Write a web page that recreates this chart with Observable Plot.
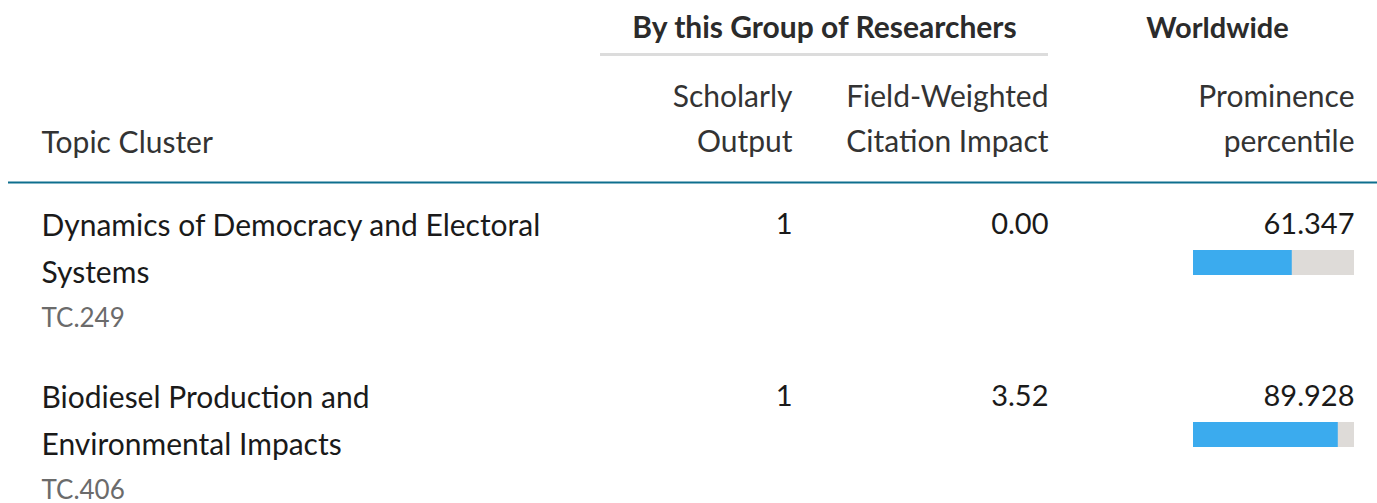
<!DOCTYPE html>
<html>
<head>
<meta charset="utf-8">
<script src="https://cdn.jsdelivr.net/npm/d3@7"></script>
<script src="https://cdn.jsdelivr.net/npm/@observablehq/plot@0.6"></script>
<style>
  html, body { margin: 0; padding: 0; background: #fff; }
  #chart svg { display: block; }
</style>
</head>
<body>
<div id="chart"></div>
<script>
// ---- data ----
const topics = [
  "Dynamics of Democracy and Electoral Systems",
  "Biodiesel Production and Environmental Impacts"
];
const topicCodes = ["TC.249", "TC.406"];
const scholarlyOutput = [1, 1];
const fwci = [0.00, 3.52];
const prominencePercentile = [61.347, 89.928];

const groupHeader = "By this Group of Researchers";
const worldHeader = "Worldwide";
const columnHeaders = ["Topic Cluster", "Scholarly\nOutput", "Field-Weighted\nCitation Impact", "Prominence\npercentile"];

// ---- layout / style ----
const W = 1377, H = 503;
const FONT = "Lato, 'Noto Sans', sans-serif";
const fsBody = 30, fsHead = 30, fsBold = 29, fsGroup = 30, fsCode = 26, fsVal = 29;
const colTopic = 41, colOutput = 792, colFwci = 1048, colProm = 1354;
const barLeft = 1193, barRight = 1354;

function wrap(text, maxWidth, font) {
  const ctx = document.createElement("canvas").getContext("2d");
  ctx.font = font;
  const words = text.split(" ");
  const lines = [];
  let line = "";
  for (const w of words) {
    const test = line ? line + " " + w : w;
    if (ctx.measureText(test).width > maxWidth && line) { lines.push(line); line = w; }
    else line = test;
  }
  if (line) lines.push(line);
  return lines.join("\n");
}

const rows = topics.map((t, i) => ({
  index: i,
  topic: t,
  code: topicCodes[i],
  output: scholarlyOutput[i],
  fwci: fwci[i],
  prom: prominencePercentile[i]
}));

function render() {
  const bodyFont = `${fsBody}px Lato`;
  rows.forEach(r => r.label = wrap(r.topic, 520, bodyFont));
  // y of the text anchor (lineAnchor "top") for a given first-line baseline
  const top = (baseline, fs, lh = 1, multi = false) => baseline - 0.71 * fs * (multi ? lh : 1);
  const rowStart = 184, rowStep = 172;
  const lhHead = 45 / fsHead, lhBody = 47 / fsBody;

  const plot = Plot.plot({
    width: W,
    height: H,
    margin: 0,
    style: {fontFamily: FONT, background: "#fff", overflow: "visible"},
    x: {domain: [0, 100], range: [barLeft, barRight], axis: null},
    y: {domain: [0, 1], range: [rowStart, rowStart + rowStep], axis: null},
    marks: [
      // header group titles
      Plot.text([groupHeader], {frameAnchor: "top-left", dx: 824, dy: top(37, fsGroup), text: d => d,
        textAnchor: "middle", lineAnchor: "top", fontSize: fsGroup, fontWeight: 700, fill: "#2b2b2b"}),
      Plot.text([worldHeader], {frameAnchor: "top-left", dx: 1217, dy: top(37, fsBold), text: d => d,
        textAnchor: "middle", lineAnchor: "top", fontSize: fsBold, fontWeight: 700, fill: "#2b2b2b"}),
      // grey rule under group title
      Plot.ruleY([0], {y: d => d, dy: 54 - rowStart, insetLeft: 600, insetRight: W - 1048, stroke: "#dcdcdc", strokeWidth: 3}),
      // column headers
      Plot.text([columnHeaders[0]], {frameAnchor: "top-left", dx: colTopic, dy: top(152, fsHead), text: d => d,
        textAnchor: "start", lineAnchor: "top", fontSize: fsHead, fill: "#333"}),
      Plot.text([columnHeaders[1]], {frameAnchor: "top-left", dx: colOutput, dy: top(107, fsHead, lhHead, true), text: d => d,
        textAnchor: "end", lineAnchor: "top", fontSize: fsHead, lineHeight: lhHead, fill: "#333"}),
      Plot.text([columnHeaders[2]], {frameAnchor: "top-left", dx: colFwci, dy: top(107, fsHead, lhHead, true), text: d => d,
        textAnchor: "end", lineAnchor: "top", fontSize: fsHead, lineHeight: lhHead, fill: "#333"}),
      Plot.text([columnHeaders[3]], {frameAnchor: "top-left", dx: colProm, dy: top(107, fsHead, lhHead, true), text: d => d,
        textAnchor: "end", lineAnchor: "top", fontSize: fsHead, lineHeight: lhHead, fill: "#333"}),
      // teal header rule
      Plot.ruleY([0], {y: d => d, dy: -2, insetLeft: 8, stroke: "#0e6f8e", strokeWidth: 2}),
      // topic names
      Plot.text(rows, {y: "index", frameAnchor: "left", dx: colTopic, dy: top(235.5, fsBody, lhBody, true) - rowStart,
        text: "label", textAnchor: "start", lineAnchor: "top", fontSize: fsBody, lineHeight: lhBody, fill: "#1a1a1a"}),
      // topic codes
      Plot.text(rows, {y: "index", frameAnchor: "left", dx: colTopic, dy: top(326, fsCode) - rowStart,
        text: "code", textAnchor: "start", lineAnchor: "top", fontSize: fsCode, fill: "#6b6b6b"}),
      // scholarly output
      Plot.text(rows, {y: "index", frameAnchor: "left", dx: colOutput, dy: top(233, fsVal) - rowStart,
        text: d => d3.format("d")(d.output), textAnchor: "end", lineAnchor: "top", fontSize: fsVal, fill: "#1a1a1a"}),
      // FWCI
      Plot.text(rows, {y: "index", frameAnchor: "left", dx: colFwci, dy: top(233, fsVal) - rowStart,
        text: d => d3.format(".2f")(d.fwci), textAnchor: "end", lineAnchor: "top", fontSize: fsVal, fill: "#1a1a1a"}),
      // prominence value
      Plot.text(rows, {y: "index", frameAnchor: "left", dx: colProm, dy: top(233, fsVal) - rowStart,
        text: d => d3.format(".3f")(d.prom), textAnchor: "end", lineAnchor: "top", fontSize: fsVal, fill: "#1a1a1a"}),
      // prominence bar background
      Plot.ruleY(rows, {y: "index", x1: 0, x2: 100, dy: 262 - rowStart, stroke: "#dedbd8", strokeWidth: 25}),
      // prominence bar
      Plot.ruleY(rows, {y: "index", x1: 0, x2: "prom", dy: 262 - rowStart, stroke: "#3babee", strokeWidth: 25})
    ]
  });
  document.getElementById("chart").replaceChildren(plot);
}

if (document.fonts && document.fonts.load) {
  Promise.all([document.fonts.load("30px Lato"), document.fonts.load("bold 30px Lato")])
    .then(render, render);
} else render();
</script>
</body>
</html>
